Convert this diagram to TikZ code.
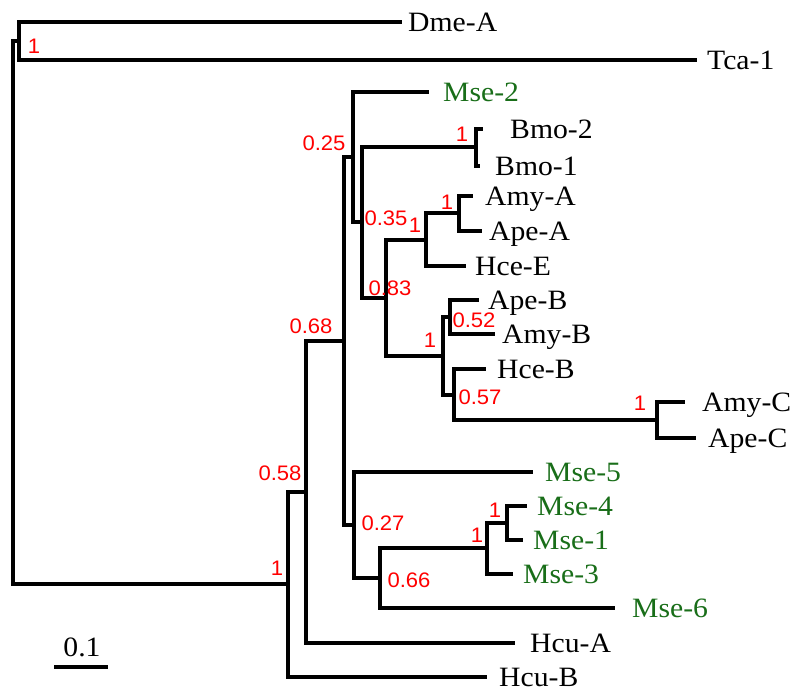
\documentclass[tikz,border=0pt]{standalone}
\usepackage{fontspec}
\newfontfamily\tipfont[FakeStretch=1.06]{Liberation Serif}
\newfontfamily\supfont[FakeStretch=1.05]{Liberation Sans}
\definecolor{tipgreen}{RGB}{25,110,25}
\definecolor{supred}{RGB}{255,0,0}
\begin{document}
\begin{tikzpicture}[x=1pt,y=-1pt,
  br/.style={line width=3.3pt, line join=miter},
  thk/.style={line width=4.2pt},
  tip/.style={anchor=base west, inner sep=0pt, font=\tipfont\fontsize{28}{28}\selectfont, yshift=-9.3pt},
  mse/.style={tip, text=tipgreen},
  sup/.style={inner sep=0pt, text=supred, font=\supfont\fontsize{21}{21}\selectfont},
  scalelab/.style={anchor=base, inner sep=0pt, font=\tipfont\fontsize{28}{28}\selectfont}]
\useasboundingbox[fill=white] (0,0) rectangle (800,700);

% internal nodes
\coordinate (R) at (13,313);
\coordinate (DT) at (19,41);
\coordinate (N1) at (288,584);
\coordinate (N058) at (306,492);
\coordinate (N068) at (344,341);
\coordinate (N025) at (353,157);
\coordinate (N035) at (362,222);
\coordinate (NBmo) at (476,147);
\coordinate (N083) at (386,298);
\coordinate (NA1) at (426,240);
\coordinate (NAA) at (459,213);
\coordinate (NB1) at (443,356);
\coordinate (N052) at (450,317);
\coordinate (N057) at (454,395);
\coordinate (NC) at (657,420);
\coordinate (N027) at (354,525);
\coordinate (N066) at (380,578);
\coordinate (NM) at (487,548);
\coordinate (NM41) at (507,523);

% tips (branch ends)
\coordinate (DmeA) at (402,22);
\coordinate (Tca1) at (697,60);
\coordinate (Mse2) at (429,92);
\coordinate (Bmo2) at (483,129);
\coordinate (Bmo1) at (480,166);
\coordinate (AmyA) at (473,196);
\coordinate (ApeA) at (482,231);
\coordinate (HceE) at (466,266);
\coordinate (ApeB) at (479,300);
\coordinate (AmyB) at (495,334);
\coordinate (HceB) at (486,369);
\coordinate (AmyC) at (685,402);
\coordinate (ApeC) at (696,438);
\coordinate (Mse5) at (533,472);
\coordinate (Mse4) at (527,506);
\coordinate (Mse1) at (523,540);
\coordinate (Mse3) at (513,574);
\coordinate (Mse6) at (615,608);
\coordinate (HcuA) at (515,643);
\coordinate (HcuB) at (487,677);

% branches
\draw[br] (R) |- (DT);
\draw[br,thk] (R) |- (N1);
\draw[br] (DT) |- (DmeA);
\draw[br] (DT) |- (Tca1);
\draw[br,thk] (N1) |- (N058);
\draw[br] (N1) |- (HcuB);
\draw[br,thk] (N058) |- (N068);
\draw[br] (N058) |- (HcuA);
\draw[br] (N068) |- (N025);
\draw[br] (N068) |- (N027);
\draw[br] (N025) |- (Mse2);
\draw[br] (N025) |- (N035);
\draw[br,thk] (N035) |- (NBmo);
\draw[br] (N035) |- (N083);
\draw[br] (NBmo) |- (Bmo2);
\draw[br] (NBmo) |- (Bmo1);
\draw[br] (N083) |- (NA1);
\draw[br] (N083) |- (NB1);
\draw[br,thk] (NA1) |- (NAA);
\draw[br] (NA1) |- (HceE);
\draw[br] (NAA) |- (AmyA);
\draw[br] (NAA) |- (ApeA);
\draw[br] (NB1) |- (N052);
\draw[br] (NB1) |- (N057);
\draw[br] (N052) |- (ApeB);
\draw[br] (N052) |- (AmyB);
\draw[br] (N057) |- (HceB);
\draw[br] (N057) |- (NC);
\draw[br] (NC) |- (AmyC);
\draw[br] (NC) |- (ApeC);
\draw[br] (N027) |- (Mse5);
\draw[br] (N027) |- (N066);
\draw[br,thk] (N066) |- (NM);
\draw[br] (N066) |- (Mse6);
\draw[br] (NM) |- (NM41);
\draw[br] (NM) |- (Mse3);
\draw[br] (NM41) |- (Mse4);
\draw[br] (NM41) |- (Mse1);

% tip labels
\node[tip] (lDmeA) at (408,22) {Dme-A};
\node[tip] (lTca1) at (707,60) {Tca-1};
\node[mse] (lMse2) at (443,92) {Mse-2};
\node[tip] (lBmo2) at (510,129) {Bmo-2};
\node[tip] (lBmo1) at (495,166) {Bmo-1};
\node[tip] (lAmyA) at (485,196) {Amy-A};
\node[tip] (lApeA) at (489,231) {Ape-A};
\node[tip] (lHceE) at (475,266) {Hce-E};
\node[tip] (lApeB) at (488,300) {Ape-B};
\node[tip] (lAmyB) at (502,334) {Amy-B};
\node[tip] (lHceB) at (497,369) {Hce-B};
\node[tip] (lAmyC) at (702,402) {Amy-C};
\node[tip] (lApeC) at (708,438) {Ape-C};
\node[mse] (lMse5) at (545,472) {Mse-5};
\node[mse] (lMse4) at (537,506) {Mse-4};
\node[mse] (lMse1) at (533,540) {Mse-1};
\node[mse] (lMse3) at (523,574) {Mse-3};
\node[mse] (lMse6) at (632,608) {Mse-6};
\node[tip] (lHcuA) at (530,643) {Hcu-A};
\node[tip] (lHcuB) at (499,677) {Hcu-B};

% support values
\node[sup] (sDT) at (34,46) {1};
\node[sup] (sN1) at (277,568) {1};
\node[sup] (s058) at (280,473) {0.58};
\node[sup] (s068) at (311,326) {0.68};
\node[sup] (s025) at (324,143) {0.25};
\node[sup] (s035) at (386,218) {0.35};
\node[sup] (sNA1) at (415,225) {1};
\node[sup] (sNAA) at (447,202) {1};
\node[sup] (s083) at (390,288) {0.83};
\node[sup] (sBmo) at (462,134) {1};
\node[sup] (s052) at (474,320) {0.52};
\node[sup] (sNB1) at (430,340) {1};
\node[sup] (s057) at (480,397) {0.57};
\node[sup] (sNC) at (640,403) {1};
\node[sup] (s027) at (383,523) {0.27};
\node[sup] (s066) at (409,580) {0.66};
\node[sup] (sNM) at (477,535) {1};
\node[sup] (sNM41) at (495,510) {1};

% scale bar
\coordinate (sb1) at (54,667);
\coordinate (sb2) at (108,667);
\draw[br] (sb1) -- (sb2);
\node[scalelab] (lsb) at (82,656) {0.1};
\end{tikzpicture}
\end{document}
